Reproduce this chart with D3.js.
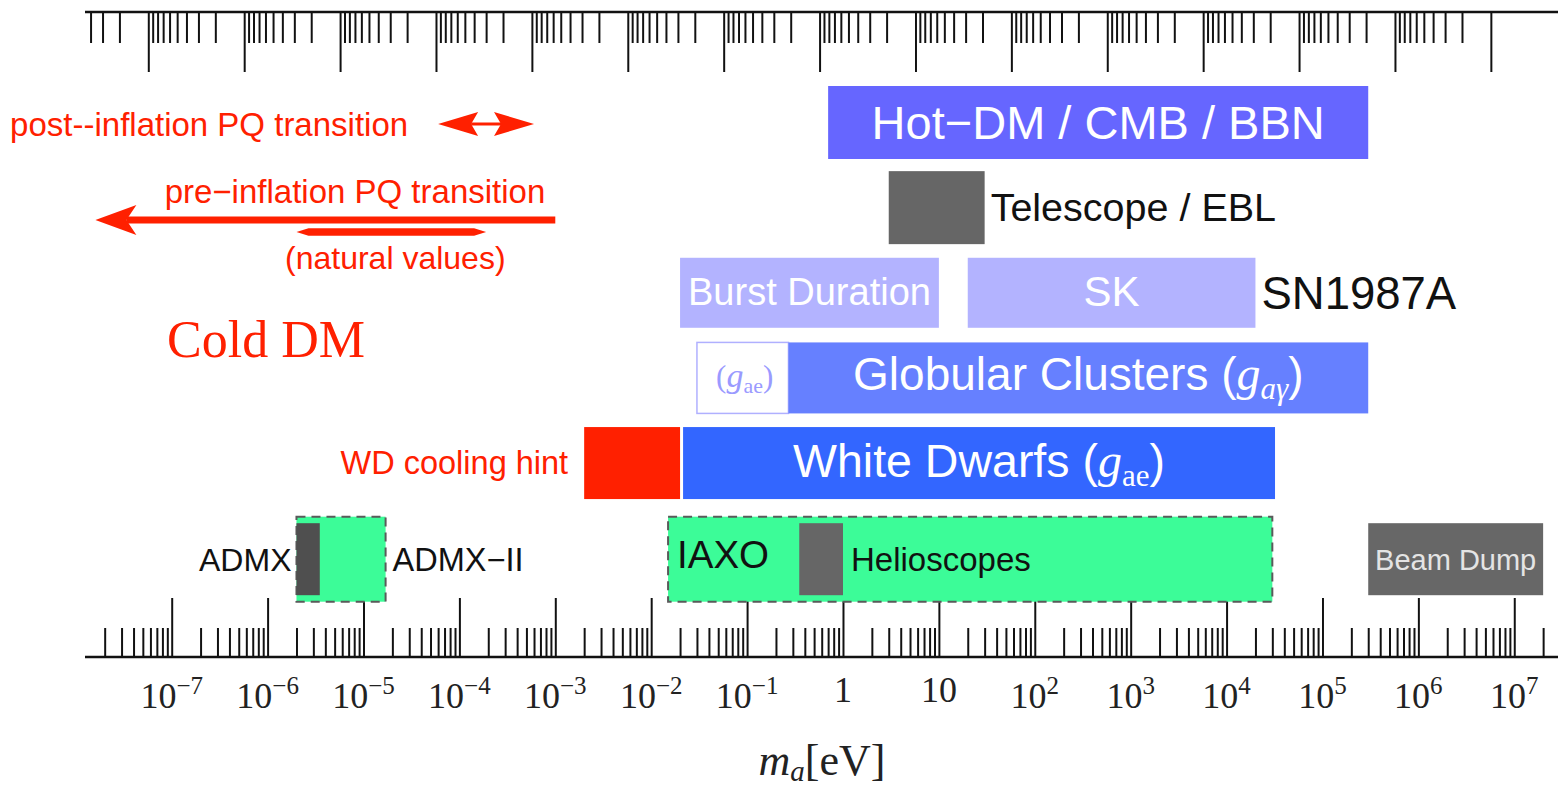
<!DOCTYPE html>
<html><head><meta charset="utf-8">
<script src="https://cdn.jsdelivr.net/npm/d3@7"></script>
<style>html,body{margin:0;padding:0;background:#fff;} svg{display:block;}</style>
</head><body><svg id="chart" width="1558" height="787"></svg>
<script>
// ---------------- data ----------------
const massDomain = [1.247e-8, 2.858e7];          // axion mass range shown, eV
const faConversion = 5.7e6;                      // f_a [GeV] = 5.7e6 / (m_a / eV)

const rowNames = ["hot", "telescope", "sn1987a", "gc", "wd", "exp"];

const barNames = ["Hot−DM / CMB / BBN", "Telescope / EBL", "Burst Duration", "SK",
                  "GC (gae)", "Globular Clusters", "WD cooling hint", "White Dwarfs",
                  "ADMX-II", "ADMX", "IAXO", "Helioscopes", "Beam Dump"];
const barRows  = ["hot", "telescope", "sn1987a", "sn1987a", "gc", "gc", "wd", "wd",
                  "exp", "exp", "exp", "exp", "exp"];
const barKinds = ["hotdm", "telescope", "sn", "sn", "gcOutline", "gc", "hint", "wd",
                  "proj", "admx", "proj", "cast", "beam"];
const barLo = [0.7, 3, 0.02, 20, 0.03, 0.27, 0.002, 0.0215, 2e-6, 2e-6, 0.015, 0.35, 3e5];
const barHi = [3e5, 30, 10, 2e4, 0.27, 3e5, 0.02, 3.2e4, 1.7e-5, 3.5e-6, 3e4, 1, 2e7];

const arrowNames = ["post-inflation", "pre-inflation", "natural values"];
const arrowLo = [6e-5, 1.6e-8, 2e-6];
const arrowHi = [6e-4, 1e-3, 1.9e-4];

const tickExponents = [-7, -6, -5, -4, -3, -2, -1, 0, 1, 2, 3, 4, 5, 6, 7];
const tickLabelBase = ["10","10","10","10","10","10","10","1","10","10","10","10","10","10","10"];
const tickLabelExp  = ["−7","−6","−5","−4","−3","−2","−1","","","2","3","4","5","6","7"];

const faMajorExponents = d3.range(0, 15);        // f_a = 10^0 ... 10^14 GeV

// ---------------- setup ----------------
const svg = d3.select("#chart");
svg.append("rect").attr("width", 1558).attr("height", 787).attr("fill", "#fff");

const SANS = "'Liberation Sans', Arial, Helvetica, sans-serif";
const SERIF = "'Liberation Serif', 'Times New Roman', serif";
const RED = "#ff2000";

const xs = d3.scaleLog().domain(massDomain).range([85, 1558]);
const fa = d3.scaleLog().domain([faConversion / massDomain[0], faConversion / massDomain[1]]).range([85, 1558]);
const ys = d3.scalePoint().domain(rowNames).range([122.5, 548.2]);
const expShift = 11;
const rowY = r => ys(r) + (r === "exp" ? expShift : 0);

// ---------------- axes ----------------
function logTicks(kMin, kMax, major, dom) {
  const out = [];
  const lo = Math.min(dom[0], dom[1]), hi = Math.max(dom[0], dom[1]);
  for (let k = kMin; k <= kMax; k++) {
    for (let j = 1; j <= 9; j++) {
      const v = j * Math.pow(10, k);
      if ((major ? j === 1 : j !== 1) && v >= lo && v <= hi) out.push(v);
    }
  }
  return out;
}

const bottomY = 657, topY = 12;
const massMajors = logTicks(-8, 7, true, massDomain);
const massMinors = logTicks(-8, 7, false, massDomain);
const faMajors = faMajorExponents.map(k => Math.pow(10, k)).filter(v => v <= fa.domain()[0]);
const faMinors = logTicks(0, 14, false, fa.domain());

function styleAxis(g) {
  g.selectAll(".tick line").attr("stroke", "#111").attr("stroke-width", 2);
  g.selectAll(".tick text").remove();
  g.select(".domain").remove();
}

svg.append("g").attr("transform", `translate(0,${bottomY})`)
  .call(d3.axisTop(xs).tickValues(massMinors).tickSizeInner(29).tickSizeOuter(0).tickFormat(() => ""))
  .call(styleAxis);
svg.append("g").attr("transform", `translate(0,${bottomY})`)
  .call(d3.axisTop(xs).tickValues(massMajors).tickSizeInner(59).tickSizeOuter(0).tickFormat(() => ""))
  .call(styleAxis);
svg.append("line").attr("x1", 85).attr("x2", 1558).attr("y1", bottomY).attr("y2", bottomY)
  .attr("stroke", "#111").attr("stroke-width", 2.5);

svg.append("g").attr("transform", `translate(0,${topY})`)
  .call(d3.axisBottom(fa).tickValues(faMinors).tickSizeInner(31).tickSizeOuter(0).tickFormat(() => ""))
  .call(styleAxis);
svg.append("g").attr("transform", `translate(0,${topY})`)
  .call(d3.axisBottom(fa).tickValues(faMajors).tickSizeInner(60).tickSizeOuter(0).tickFormat(() => ""))
  .call(styleAxis);
svg.append("line").attr("x1", 85).attr("x2", 1558).attr("y1", topY).attr("y2", topY)
  .attr("stroke", "#111").attr("stroke-width", 2.5);

// tick labels
svg.append("g").selectAll("text").data(tickExponents).join("text")
  .attr("x", d => xs(Math.pow(10, d)))
  .attr("y", (d, i) => tickLabelExp[i] ? 708 : 702)
  .attr("text-anchor", "middle")
  .attr("font-family", SERIF).attr("font-size", 36).attr("fill", "#222")
  .each(function (d, i) {
    const t = d3.select(this);
    t.append("tspan").text(tickLabelBase[i]);
    if (tickLabelExp[i]) t.append("tspan").attr("dy", -14).attr("font-size", 25).text(tickLabelExp[i]);
  });

// axis title
const title = svg.append("text").attr("x", 822).attr("y", 775).attr("text-anchor", "middle")
  .attr("font-family", SERIF).attr("font-size", 44).attr("fill", "#222");
title.append("tspan").attr("font-style", "italic").text("m");
title.append("tspan").attr("font-style", "italic").attr("font-size", 29).attr("dy", 6).text("a");
title.append("tspan").attr("dy", -6).text("[eV]");

// ---------------- bars ----------------
const kindStyle = {
  hotdm:     { fill: "#6666ff", h: 73 },
  telescope: { fill: "#666666", h: 73 },
  sn:        { fill: "#b3b3ff", h: 70 },
  gcOutline: { fill: "#ffffff", h: 71, stroke: "#b0b0ff", sw: 1.5 },
  gc:        { fill: "#6680ff", h: 71 },
  hint:      { fill: "#ff2000", h: 72 },
  wd:        { fill: "#3366ff", h: 72 },
  proj:      { fill: "#3cfc98", h: 85, stroke: "#5a5a5a", sw: 2, dash: "9,6" },
  admx:      { fill: "#4f4f4f", h: 72 },
  cast:      { fill: "#666666", h: 72 },
  beam:      { fill: "#676767", h: 72 }
};

const barIdx = d3.range(barNames.length);
svg.append("g").selectAll("rect").data(barIdx).join("rect")
  .attr("x", i => xs(barLo[i]))
  .attr("width", i => xs(barHi[i]) - xs(barLo[i]))
  .attr("y", i => rowY(barRows[i]) - kindStyle[barKinds[i]].h / 2)
  .attr("height", i => kindStyle[barKinds[i]].h)
  .attr("fill", i => kindStyle[barKinds[i]].fill)
  .attr("stroke", i => kindStyle[barKinds[i]].stroke || "none")
  .attr("stroke-width", i => kindStyle[barKinds[i]].sw || 0)
  .attr("stroke-dasharray", i => kindStyle[barKinds[i]].dash || null);

const mid = i => (xs(barLo[i]) + xs(barHi[i])) / 2;
function label(x, y, txt, size, color, anchor, family) {
  return svg.append("text").attr("x", x).attr("y", y).attr("text-anchor", anchor || "middle")
    .attr("font-family", family || SANS).attr("font-size", size).attr("fill", color).text(txt);
}

// bar labels
label(mid(0), rowY("hot") + 16.5, barNames[0], 47, "#fff");
label(xs(barHi[1]) + 6, rowY("telescope") + 13, barNames[1], 39.5, "#111", "start");
label(mid(2), rowY("sn1987a") + 12, barNames[2], 38, "#fff");
label(mid(3), rowY("sn1987a") + 13.5, barNames[3], 42, "#fff");
label(xs(barHi[3]) + 6, rowY("sn1987a") + 16, "SN1987A", 45.5, "#111", "start");

// (g_ae) in outline box
{
  const t = svg.append("text").attr("x", mid(4) + 2).attr("y", rowY("gc") + 9).attr("text-anchor", "middle")
    .attr("font-family", SERIF).attr("font-size", 31).attr("fill", "#9a9aff");
  t.append("tspan").text("(");
  t.append("tspan").attr("font-style", "italic").attr("font-size", 34).text("g");
  t.append("tspan").attr("font-size", 22).attr("dy", 6).text("ae");
  t.append("tspan").attr("dy", -6).text(")");
}
// Globular Clusters (g_aγ)
{
  const t = svg.append("text").attr("x", mid(5)).attr("y", rowY("gc") + 12).attr("text-anchor", "middle")
    .attr("font-family", SANS).attr("font-size", 46).attr("fill", "#fff");
  t.append("tspan").text("Globular Clusters (");
  t.append("tspan").attr("font-family", SERIF).attr("font-style", "italic").attr("font-size", 48).text("g");
  t.append("tspan").attr("font-family", SERIF).attr("font-style", "italic").attr("font-size", 31).attr("dy", 9).text("aγ");
  t.append("tspan").attr("dy", -9).text(")");
}
// White Dwarfs (g_ae)
{
  const t = svg.append("text").attr("x", mid(7)).attr("y", rowY("wd") + 14).attr("text-anchor", "middle")
    .attr("font-family", SANS).attr("font-size", 46.5).attr("fill", "#fff");
  t.append("tspan").text("White Dwarfs (");
  t.append("tspan").attr("font-family", SERIF).attr("font-style", "italic").attr("font-size", 48).text("g");
  t.append("tspan").attr("font-family", SERIF).attr("font-size", 31).attr("dy", 9).text("ae");
  t.append("tspan").attr("dy", -9).text(")");
}
label(xs(barLo[6]) - 16, rowY("wd") + 11, barNames[6], 32.5, RED, "end");

// experiments
label(xs(barLo[9]) - 5, rowY("exp") + 12, barNames[9], 32, "#111", "end");
label(xs(barHi[8]) + 7, rowY("exp") + 12, "ADMX−II", 32.5, "#111", "start");
label(xs(barLo[10]) + 9, rowY("exp") + 9, barNames[10], 38.5, "#111", "start");
label(xs(barHi[11]) + 8, rowY("exp") + 12, barNames[11], 33, "#111", "start");
label(mid(12), rowY("exp") + 10.5, barNames[12], 29, "#e4e4e4");

// ---------------- cosmology arrows ----------------
// post-inflation double arrow
{
  const x0 = xs(arrowLo[0]), x1 = xs(arrowHi[0]), y = 124, hl = 40, hh = 12;
  const p = `M${x0},${y} L${x0 + hl},${y - hh} L${x0 + hl - 7},${y} L${x0 + hl},${y + hh} Z
             M${x1},${y} L${x1 - hl},${y - hh} L${x1 - hl + 7},${y} L${x1 - hl},${y + hh} Z`;
  svg.append("path").attr("d", p).attr("fill", RED);
  svg.append("line").attr("x1", x0 + hl - 7).attr("x2", x1 - hl + 7).attr("y1", y).attr("y2", y)
    .attr("stroke", RED).attr("stroke-width", 3);
  label(x0 - 30, y + 12, "post--inflation PQ transition", 33, RED, "end");
}
// pre-inflation long arrow
{
  const x0 = xs(arrowLo[1]), x1 = xs(arrowHi[1]), y = 220, hl = 41, hh = 15;
  svg.append("line").attr("x1", x0 + hl - 10).attr("x2", x1).attr("y1", y).attr("y2", y)
    .attr("stroke", RED).attr("stroke-width", 7);
  svg.append("path").attr("d", `M${x0},${y} L${x0 + hl},${y - hh} L${x0 + hl - 10},${y} L${x0 + hl},${y + hh} Z`)
    .attr("fill", RED);
  label(x1 - 10, 203, "pre−inflation PQ transition", 33, RED, "end");
}
// natural values
{
  const x0 = xs(arrowLo[2]), x1 = xs(arrowHi[2]), y = 232, h = 3.8;
  svg.append("path").attr("d", `M${x0},${y} L${x0 + 12},${y - h} L${x1 - 12},${y - h} L${x1},${y} L${x1 - 12},${y + h} L${x0 + 12},${y + h} Z`)
    .attr("fill", RED);
  label((x0 + x1) / 2 + 4, 269, "(natural values)", 32, RED);
}
label(167, 357, "Cold DM", 52, RED, "start", SERIF);
</script>
</body></html>
